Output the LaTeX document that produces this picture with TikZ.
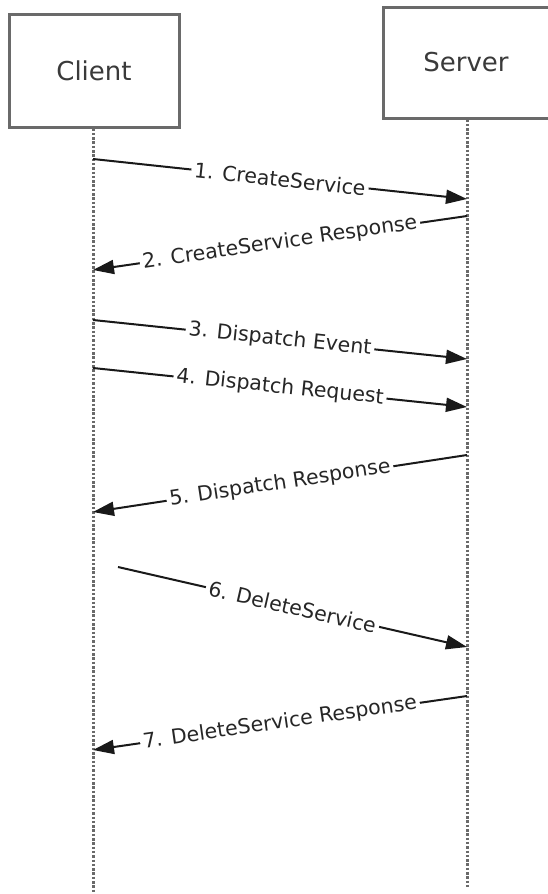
\documentclass[tikz,border=0pt]{standalone}
\usepackage{fontspec}
\setmainfont{DejaVu Sans}
\usetikzlibrary{arrows.meta}
\definecolor{boxgray}{HTML}{6A6A6A}
\definecolor{txtgray}{HTML}{3A3A3A}
\definecolor{lifegray}{HTML}{6A6A6A}
\begin{document}
\begin{tikzpicture}[x=1pt,y=-1pt,
  actor/.style={draw=boxgray,line width=3pt,fill=white,minimum width=170pt,minimum height=113pt,inner sep=0pt,
    font=\fontsize{26}{30}\selectfont,text=txtgray},
  lifeline/.style={draw=lifegray,line width=3pt,dash pattern=on 2.5pt off 1.8pt},
  msg/.style={draw=black!90,line width=2pt,-{Triangle[length=21pt,width=14pt]}},
  lbl/.style={sloped,fill=white,inner sep=3pt,font=\fontsize{20.5}{24}\selectfont,text=black!85}]
\useasboundingbox (0,0) rectangle (547,894);
\fill[white] (0,0) rectangle (547,894);
% actors
\node[actor] (client) at (94,70.5) {Client};
\node[actor,minimum width=166pt,minimum height=111pt] (server) at (466,62.5) {Server};
% lifeline ends
\coordinate (cend) at (93,894);
\coordinate (send) at (467,888);
\draw[lifeline] (client.south -| cend) -- (cend);
\draw[lifeline] (server.south -| send) -- (send);
% message end points
\coordinate (c1) at (93,159);   \coordinate (s1) at (467,199);
\coordinate (s2) at (467,216);  \coordinate (c2) at (93,270);
\coordinate (c3) at (93,320);   \coordinate (s3) at (467,359);
\coordinate (c4) at (93,368);   \coordinate (s4) at (467,407);
\coordinate (s5) at (467,455);  \coordinate (c5) at (93,512);
\coordinate (c6) at (118,567);  \coordinate (s6) at (467,647);
\coordinate (s7) at (467,696);  \coordinate (c7) at (93,750);
% messages
\draw[msg] (c1) -- node[lbl] {1. CreateService} (s1);
\draw[msg] (s2) -- node[lbl] {2. CreateService Response} (c2);
\draw[msg] (c3) -- node[lbl] {3. Dispatch Event} (s3);
\draw[msg] (c4) -- node[lbl] {4. Dispatch Request} (s4);
\draw[msg] (s5) -- node[lbl] {5. Dispatch Response} (c5);
\draw[msg] (c6) -- node[lbl] {6. DeleteService} (s6);
\draw[msg] (s7) -- node[lbl] {7. DeleteService Response} (c7);
\end{tikzpicture}
\end{document}
